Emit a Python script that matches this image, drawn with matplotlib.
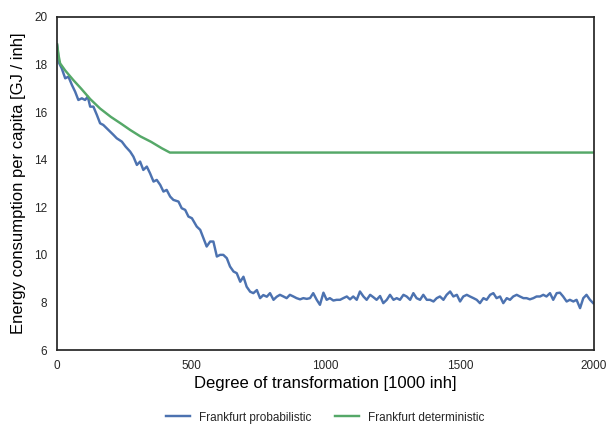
import matplotlib
matplotlib.use("Agg")
import matplotlib.pyplot as plt

# =========================================================
# DATA
# =========================================================
prob_x = [0, 7, 17, 30, 42, 55, 67, 79, 92, 104, 114, 123, 135, 148, 160, 172,
          191, 210, 222, 241, 255, 272, 284, 297, 309, 321, 334, 346, 359, 371,
          384, 396, 408, 421, 433, 452, 464, 477, 489, 502, 520, 533, 545, 557,
          570, 582, 595, 607, 619, 632, 644, 657, 669, 682, 694, 706, 719, 731,
          744, 756, 768, 781, 793, 806, 818,
          830, 843, 855, 867, 880, 892, 905, 917, 930, 942, 954, 967, 979, 992,
          1004, 1016, 1029, 1041, 1054, 1066, 1079, 1091, 1103, 1116, 1128, 1141,
          1153, 1166, 1178, 1190, 1203, 1215, 1228, 1240, 1253, 1265, 1277, 1290,
          1302, 1315, 1327, 1339, 1352, 1364, 1377,
          1389, 1402, 1414, 1426, 1439, 1451, 1464, 1476, 1489, 1501, 1513, 1526,
          1538, 1551, 1563, 1575, 1588, 1600, 1613, 1625, 1637, 1650, 1662, 1675,
          1687, 1699, 1712, 1724, 1737, 1749, 1761, 1774, 1786, 1799, 1811, 1823,
          1836, 1848, 1861, 1873, 1885, 1898, 1910, 1923, 1935, 1948, 1960, 1972,
          1985, 1997]
prob_y = [18.80, 18.07, 17.84, 17.42, 17.49, 17.14, 16.86, 16.51, 16.58, 16.51,
          16.65, 16.23, 16.23, 15.88, 15.53, 15.46, 15.25, 15.04, 14.90, 14.76,
          14.55, 14.34, 14.13, 13.78, 13.92, 13.57, 13.71, 13.43, 13.08, 13.15,
          12.94, 12.66, 12.73, 12.45, 12.31, 12.24, 11.96, 11.89, 11.61, 11.54,
          11.19, 11.05, 10.70, 10.35, 10.56, 10.56, 9.93, 10.00, 10.00, 9.86,
          9.51, 9.30, 9.23, 8.87, 9.08, 8.66, 8.45, 8.39, 8.52, 8.18, 8.31, 8.24,
          8.39, 8.11, 8.24,
          8.32, 8.25, 8.18, 8.32, 8.25, 8.18, 8.13, 8.18, 8.15, 8.18, 8.39, 8.11,
          7.90, 8.41, 8.11, 8.18, 8.08, 8.11, 8.11, 8.18, 8.25, 8.13, 8.25, 8.11,
          8.46, 8.25, 8.11, 8.32, 8.22, 8.11, 8.27, 7.97, 8.11, 8.32, 8.11, 8.18,
          8.11, 8.32, 8.25, 8.11, 8.39, 8.18, 8.11, 8.32, 8.11,
          8.11, 8.04, 8.18, 8.25, 8.11, 8.32, 8.46, 8.25, 8.32, 8.04, 8.25, 8.32,
          8.25, 8.18, 8.11, 7.97, 8.18, 8.11, 8.32, 8.39, 8.18, 8.25, 7.97, 8.18,
          8.11, 8.25, 8.32, 8.25, 8.18, 8.18, 8.13, 8.18, 8.25, 8.25, 8.32, 8.25,
          8.39, 8.11, 8.39, 8.41, 8.25, 8.04, 8.11, 8.04, 8.11, 7.76, 8.18, 8.32,
          8.11, 7.97]

det_x = [0, 5, 11, 30, 60, 90, 123, 160, 200, 240, 272, 310, 350, 390, 420, 2000]
det_y = [18.85, 18.40, 18.05, 17.75, 17.35, 16.98, 16.55, 16.15, 15.80, 15.50,
         15.25, 14.98, 14.75, 14.48, 14.30, 14.30]

xticks = [0, 500, 1000, 1500, 2000]
yticks = [6, 8, 10, 12, 14, 16, 18, 20]

# =========================================================
# PLOT
# =========================================================
plt.rcParams.update({
    "font.family": ["Liberation Sans", "DejaVu Sans"],
    "axes.edgecolor": "#262626",
    "axes.linewidth": 1.25,
    "text.color": "#262626",
    "xtick.color": "#262626",
    "ytick.color": "#262626",
})

fig = plt.figure(figsize=(6.08, 4.24), dpi=100)
ax = fig.add_axes([0.094, 0.1745, 0.883, 0.7855])

ax.plot(prob_x, prob_y, color="#4C72B0", linewidth=1.75, label="Frankfurt probabilistic")
ax.plot(det_x, det_y, color="#55A868", linewidth=1.75, label="Frankfurt deterministic")

ax.set_xlim(0, 2000)
ax.set_ylim(6, 20)
ax.set_xticks(xticks)
ax.set_yticks(yticks)
ax.tick_params(length=0, labelsize=8.5, pad=7)

ax.set_xlabel("Degree of transformation [1000 inh]", fontsize=12, labelpad=3)
ax.set_ylabel("Energy consumption per capita [GJ / inh]", fontsize=12, labelpad=6)

ax.legend(loc="upper center", bbox_to_anchor=(0.5, -0.16), ncol=2,
          frameon=False, fontsize=8.5, handlelength=2.0, columnspacing=2.0,
          borderaxespad=0.3)

fig.savefig("out.png", dpi=100)
